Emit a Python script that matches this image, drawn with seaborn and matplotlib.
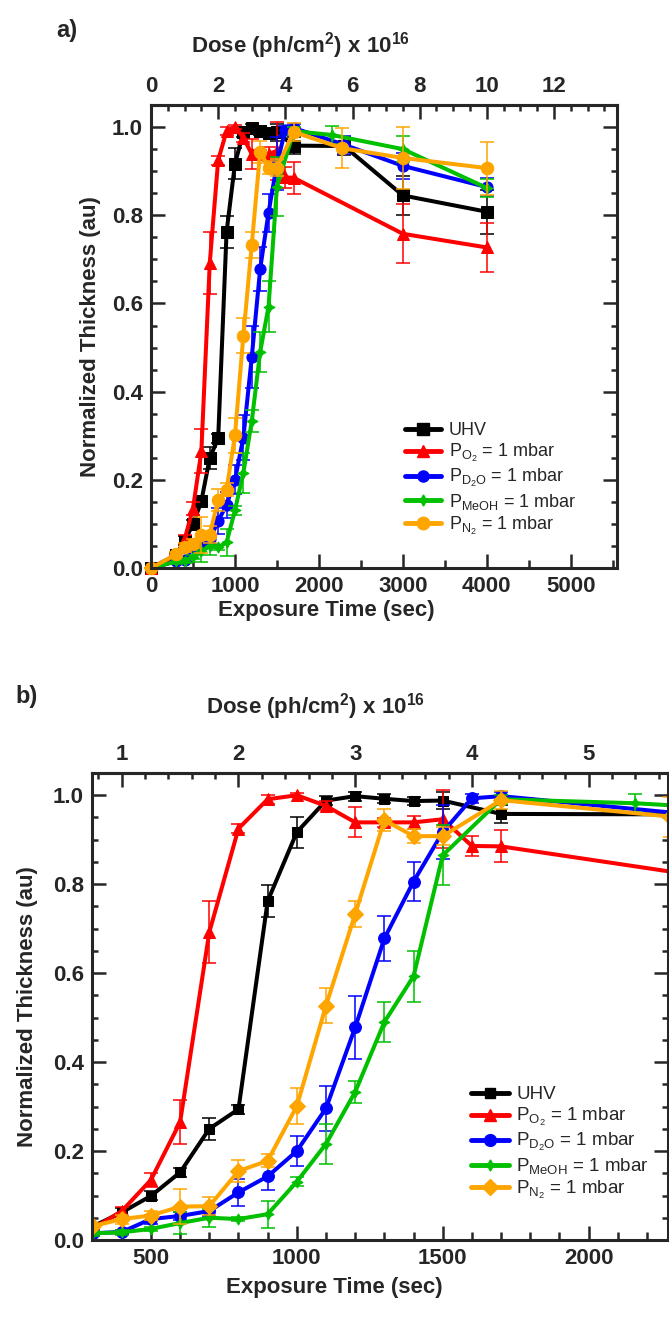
import numpy as np
import pandas as pd
import matplotlib
matplotlib.use('Agg')
import matplotlib.pyplot as plt
import seaborn as sns
from matplotlib.lines import Line2D
from matplotlib.ticker import MultipleLocator, FixedLocator

# data (time in s, normalized thickness, error)
uhv_t = [0, 300, 400, 500, 600, 700, 800, 900, 1000, 1100, 1200, 1300, 1400, 1500, 1700, 2300, 3000, 4000]
uhv_v = [0, 0.03, 0.062, 0.099, 0.152, 0.25, 0.294, 0.762, 0.917, 0.988, 0.998, 0.992, 0.987, 0.988, 0.958, 0.957, 0.845, 0.808]
uhv_e = [0, 0.005, 0.01, 0.01, 0.01, 0.025, 0.01, 0.036, 0.035, 0.01, 0.01, 0.01, 0.01, 0.02, 0.02, 0.02, 0.045, 0.05]

o2_t = [0, 300, 400, 500, 600, 700, 800, 900, 1000, 1100, 1200, 1300, 1400, 1500, 1600, 1700, 3000, 4000]
o2_v = [0, 0.025, 0.065, 0.135, 0.265, 0.692, 0.925, 0.991, 1.0, 0.976, 0.939, 0.939, 0.939, 0.946, 0.886, 0.885, 0.758, 0.727]
o2_e = [0, 0.005, 0.01, 0.015, 0.05, 0.07, 0.01, 0.01, 0.005, 0.01, 0.034, 0.01, 0.015, 0.065, 0.023, 0.036, 0.067, 0.055]

d2o_t = [0, 300, 400, 500, 600, 700, 800, 900, 1000, 1100, 1200, 1300, 1400, 1500, 1600, 1700, 2300, 3000, 4000]
d2o_v = [0, 0.015, 0.018, 0.047, 0.054, 0.065, 0.107, 0.143, 0.2, 0.296, 0.478, 0.678, 0.806, 0.917, 0.993, 0.998, 0.96, 0.912, 0.864]
d2o_e = [0, 0.005, 0.005, 0.01, 0.01, 0.01, 0.03, 0.03, 0.033, 0.05, 0.07, 0.05, 0.043, 0.06, 0.01, 0.01, 0.02, 0.03, 0.02]

meoh_t = [0, 300, 400, 500, 600, 700, 800, 900, 1000, 1100, 1200, 1300, 1400, 1500, 1700, 2160, 3000, 4000]
meoh_v = [0, 0.015, 0.017, 0.025, 0.038, 0.05, 0.047, 0.058, 0.131, 0.216, 0.333, 0.49, 0.593, 0.865, 0.991, 0.982, 0.95, 0.862]
meoh_e = [0, 0.005, 0.005, 0.005, 0.025, 0.02, 0.005, 0.03, 0.01, 0.045, 0.025, 0.045, 0.057, 0.067, 0.01, 0.02, 0.03, 0.02]

n2_t = [0, 300, 400, 500, 600, 700, 800, 900, 1000, 1100, 1200, 1300, 1400, 1500, 1700, 2280, 3000, 4000]
n2_v = [0, 0.031, 0.047, 0.055, 0.075, 0.076, 0.155, 0.178, 0.301, 0.527, 0.733, 0.944, 0.908, 0.908, 0.989, 0.952, 0.93, 0.907]
n2_e = [0, 0.005, 0.01, 0.01, 0.04, 0.02, 0.025, 0.015, 0.04, 0.04, 0.03, 0.025, 0.015, 0.02, 0.02, 0.045, 0.07, 0.06]

labels = ['UHV',
          r'$\mathregular{P_{O_2}}$ = 1 mbar',
          r'$\mathregular{P_{D_2O}}$ = 1 mbar',
          r'$\mathregular{P_{MeOH}}$ = 1 mbar',
          r'$\mathregular{P_{N_2}}$ = 1 mbar']
colors = ['black', '#ff0000', '#0000ff', '#00c000', '#ffa500']
star4 = (4, 1, 0)
markers_a = ['s', '^', 'o', star4, 'o']
markers_b = ['s', '^', 'o', star4, 'D']
msize_a = [8, 8, 8, 8, 9]
msize_b = [7.5, 8, 8.5, 8, 8.5]

dose_ticks_a = [0, 2, 4, 6, 8, 10, 12]
dose_ticks_b = [1, 2, 3, 4, 5]

series = [(uhv_t, uhv_v, uhv_e), (o2_t, o2_v, o2_e), (d2o_t, d2o_v, d2o_e),
          (meoh_t, meoh_v, meoh_e), (n2_t, n2_v, n2_e)]

sns.set_theme(style='ticks')
plt.rcParams['font.family'] = ['Liberation Sans', 'DejaVu Sans']
plt.rcParams['font.weight'] = 'bold'
plt.rcParams['mathtext.fontset'] = 'custom'
plt.rcParams['mathtext.rm'] = 'Liberation Sans'
plt.rcParams['mathtext.bf'] = 'Liberation Sans:bold'
plt.rcParams['axes.linewidth'] = 2.2


def draw_panel(ax, markers, msizes, clip, xlim, xmaj, xmin, dticks, dmin, legend_xy, legend_fs):
    for (t, v, e), c, m, ms, lab in zip(series, colors, markers, msizes, labels):
        df = pd.DataFrame({'t': t, 'v': v})
        sns.lineplot(data=df, x='t', y='v', ax=ax, color=c, marker=m, markersize=ms,
                     markeredgecolor=c, linewidth=2.9, estimator=None, sort=False,
                     legend=False, clip_on=clip)
        eb = ax.errorbar(t, v, yerr=e, fmt='none', ecolor=c, elinewidth=1.1,
                         capsize=5, capthick=1.1)
        for art in list(eb.lines[1]) + list(eb.lines[2]):
            art.set_clip_on(clip)

    ax.set_xlim(*xlim)
    ax.set_ylim(0, 1.05)
    ax.xaxis.set_major_locator(MultipleLocator(xmaj))
    ax.xaxis.set_minor_locator(MultipleLocator(xmin))
    ax.yaxis.set_major_locator(MultipleLocator(0.2))
    ax.yaxis.set_minor_locator(MultipleLocator(0.05))
    ax.yaxis.set_major_formatter(matplotlib.ticker.FormatStrFormatter('%.1f'))
    ax.tick_params(which='both', direction='in', top=False, right=True, width=1.8)
    ax.tick_params(which='major', length=10, labelsize=16, pad=6)
    ax.tick_params(which='minor', length=4.5)
    ax.tick_params(axis='x', which='minor', length=6)
    for lab in ax.get_xticklabels() + ax.get_yticklabels():
        lab.set_fontweight('bold')

    sec = ax.secondary_xaxis('top', functions=(lambda x: x / 400.0, lambda d: d * 400.0))
    sec.xaxis.set_major_locator(FixedLocator(dticks))
    sec.xaxis.set_minor_locator(MultipleLocator(dmin))
    sec.tick_params(which='both', direction='in', width=1.8)
    sec.tick_params(which='major', length=10, labelsize=16, pad=6)
    sec.tick_params(which='minor', length=4.5)
    for lab in sec.get_xticklabels():
        lab.set_fontweight('bold')
    sec.spines['top'].set_linewidth(2.2)

    ax.set_ylabel('Normalized Thickness (au)', fontsize=16, fontweight='bold')
    ax.set_xlabel('Exposure Time (sec)', fontsize=16, fontweight='bold')

    handles = [Line2D([], [], color=c, marker=m, markersize=ms, linewidth=3.5)
               for c, m, ms in zip(colors, markers, msizes)]
    ax.legend(handles, labels, loc='upper left', bbox_to_anchor=legend_xy, frameon=False,
              handlelength=2.0, handletextpad=0.4, labelspacing=0.15, borderaxespad=0,
              prop={'size': legend_fs, 'weight': 'normal'})


fig = plt.figure(figsize=(6.69, 13.18), dpi=100)
ax_a = fig.add_axes([0.2257, 0.569, 0.6966, 0.3513])
ax_b = fig.add_axes([0.1375, 0.0592, 0.861, 0.3543])

draw_panel(ax_a, markers_a, msize_a, False, (0, 5550), 1000, 500, dose_ticks_a, 0.5, (0.53, 0.33), 13)
draw_panel(ax_b, markers_b, msize_b, True, (298, 2272), 500, 100, dose_ticks_b, 0.2, (0.645, 0.345), 13.5)

ax_a.xaxis.set_label_coords(0.376, -0.07)
ax_a.yaxis.set_label_coords(-0.108, 0.5)
ax_b.xaxis.set_label_coords(0.42, -0.08)
ax_b.yaxis.set_label_coords(-0.093, 0.5)

fig.text(300 / 669, 1 - 46 / 1318, r'Dose (ph/cm$^\mathbf{2}$) x 10$^\mathbf{16}$',
         ha='center', va='center', fontsize=16, fontweight='bold')
fig.text(315 / 669, 1 - 707 / 1318, r'Dose (ph/cm$^\mathbf{2}$) x 10$^\mathbf{16}$',
         ha='center', va='center', fontsize=16, fontweight='bold')
fig.text(67 / 669, 1 - 30 / 1318, 'a)', ha='center', va='center', fontsize=17, fontweight='bold')
fig.text(27 / 669, 1 - 697 / 1318, 'b)', ha='center', va='center', fontsize=17, fontweight='bold')

fig.savefig('out.png', dpi=100)
